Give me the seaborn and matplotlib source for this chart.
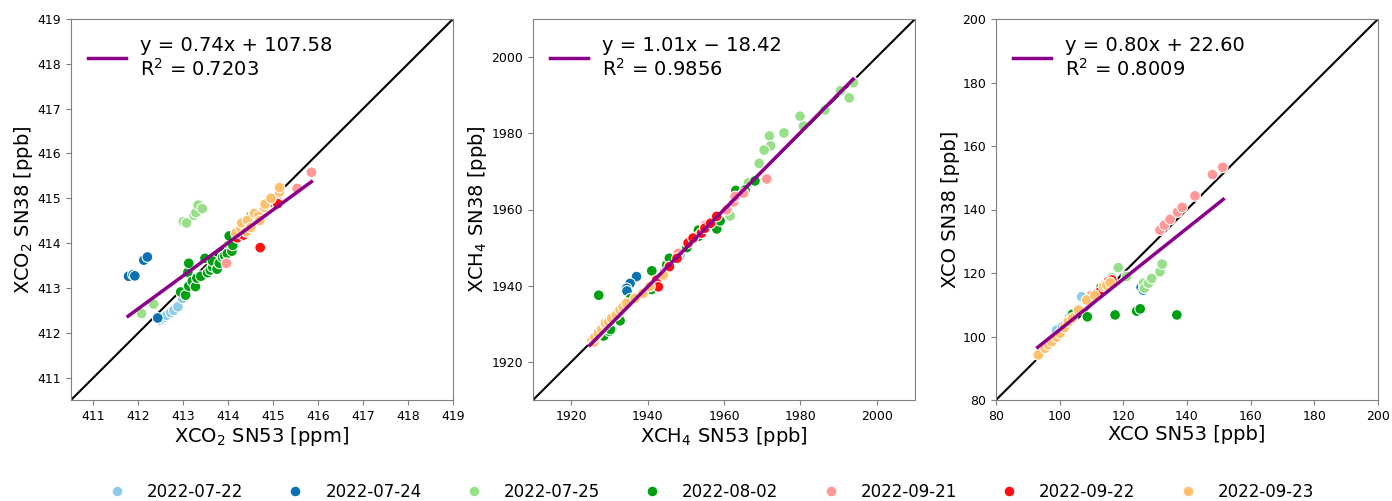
import matplotlib
matplotlib.use("Agg")
import matplotlib.pyplot as plt
import seaborn as sns
import pandas as pd

dates = ['2022-07-22', '2022-07-24', '2022-07-25', '2022-08-02',
         '2022-09-21', '2022-09-22', '2022-09-23']
date_colors = ['#8fcbe6', '#0a72b2', '#98df8a', '#00a012',
               '#ff9896', '#ff1010', '#ffc06e']

# XCO2: SN53 (x) and SN38 (y) per day
co2_sn53 = {
    '2022-07-22': [412.49, 412.55, 412.60, 412.63, 412.72, 412.79, 412.88, 412.98, 413.05],
    '2022-07-24': [411.78, 411.88, 411.92, 412.12, 412.20, 412.43],
    '2022-07-25': [412.07, 412.34, 413.00, 413.07, 413.24, 413.28, 413.33, 413.42, 414.01, 414.45],
    '2022-08-02': [412.94, 413.05, 413.10, 413.12, 413.12, 413.20, 413.27, 413.30, 413.39, 413.48,
                   413.54, 413.60, 413.65, 413.65, 413.75, 413.80, 413.87, 413.92, 413.98, 414.02,
                   414.08, 414.10, 414.50],
    '2022-09-21': [413.96, 414.20, 414.55, 415.00, 415.10, 415.53, 415.85],
    '2022-09-22': [414.20, 414.34, 414.50, 414.71, 414.95, 415.03, 415.06, 415.10],
    '2022-09-23': [414.17, 414.28, 414.30, 414.40, 414.43, 414.50, 414.58, 414.67, 414.70, 414.80,
                   414.82, 414.95, 415.14, 415.14],
}
co2_sn38 = {
    '2022-07-22': [412.28, 412.31, 412.35, 412.39, 412.45, 412.50, 412.58, 412.77, 412.95],
    '2022-07-24': [413.26, 413.30, 413.27, 413.62, 413.69, 412.33],
    '2022-07-25': [412.43, 412.64, 414.48, 414.45, 414.62, 414.68, 414.85, 414.77, 413.96, 414.55],
    '2022-08-02': [412.91, 412.84, 413.35, 413.04, 413.55, 413.15, 413.03, 413.22, 413.26, 413.66,
                   413.34, 413.40, 413.47, 413.60, 413.42, 413.55, 413.69, 413.72, 413.77, 414.16,
                   413.82, 413.95, 414.60],
    '2022-09-21': [413.55, 414.25, 414.60, 414.95, 415.05, 415.22, 415.58],
    '2022-09-22': [414.12, 414.18, 414.40, 413.90, 414.92, 414.96, 414.99, 414.88],
    '2022-09-23': [414.22, 414.33, 414.45, 414.25, 414.51, 414.35, 414.66, 414.60, 414.50, 414.80,
                   414.87, 415.00, 415.14, 415.24],
}

# XCH4
ch4_sn53 = {
    '2022-07-22': [1944.0, 1946.0, 1948.5],
    '2022-07-24': [1937.1, 1935.4, 1934.5, 1934.6],
    '2022-07-25': [1993.9, 1992.8, 1990.5, 1986.4, 1980.8, 1979.9, 1975.7, 1971.9, 1972.2, 1970.5,
                   1969.2, 1966.4, 1961.6],
    '2022-08-02': [1927.2, 1928.5, 1930.0, 1930.3, 1932.8, 1935.5, 1938.5, 1941.0, 1941.1, 1945.0,
                   1945.7, 1950.3, 1953.3, 1953.4, 1958.1, 1959.0, 1963.1, 1965.5, 1968.1],
    '2022-09-21': [1948.0, 1955.0, 1958.1, 1960.7, 1962.6, 1962.9, 1965.1, 1971.2],
    '2022-09-22': [1942.4, 1942.8, 1944.1, 1945.7, 1947.7, 1950.6, 1951.9, 1954.1, 1955.0, 1956.5,
                   1958.1],
    '2022-09-23': [1925.4, 1926.0, 1926.2, 1927.1, 1928.0, 1928.9, 1929.0, 1929.8, 1930.6, 1931.8,
                   1932.8, 1933.6, 1934.5, 1936.7, 1938.8, 1940.6, 1944.1],
}
ch4_sn38 = {
    '2022-07-22': [1943.5, 1945.5, 1948.0],
    '2022-07-24': [1942.4, 1940.6, 1939.3, 1938.6],
    '2022-07-25': [1993.3, 1989.3, 1991.2, 1986.1, 1981.9, 1984.5, 1980.1, 1979.3, 1976.7, 1975.6,
                   1972.1, 1967.0, 1958.3],
    '2022-08-02': [1937.5, 1926.8, 1928.0, 1928.5, 1930.8, 1936.6, 1937.8, 1939.0, 1943.9, 1945.5,
                   1947.2, 1950.0, 1954.6, 1953.0, 1954.9, 1957.0, 1965.0, 1965.1, 1967.5],
    '2022-09-21': [1948.5, 1955.8, 1958.3, 1959.9, 1962.0, 1963.4, 1964.3, 1968.0],
    '2022-09-22': [1941.5, 1939.7, 1943.2, 1945.0, 1947.2, 1951.2, 1952.5, 1953.8, 1955.1, 1956.4,
                   1958.2],
    '2022-09-23': [1925.6, 1925.2, 1926.4, 1927.5, 1928.6, 1929.7, 1930.2, 1930.5, 1931.5, 1932.3,
                   1933.7, 1934.4, 1935.4, 1936.7, 1938.0, 1939.8, 1942.8],
}

# XCO
co_sn53 = {
    '2022-07-22': [99.0, 103.0, 106.9, 110.0],
    '2022-07-24': [101.0, 125.6, 126.3],
    '2022-07-25': [112.0, 116.3, 118.4, 121.0, 126.3, 126.6, 127.9, 128.9, 131.5, 132.2],
    '2022-08-02': [104.0, 106.0, 108.7, 110.0, 113.0, 117.4, 124.2, 125.3, 136.8],
    '2022-09-21': [110.0, 114.0, 131.5, 132.9, 134.7, 137.0, 138.5, 142.5, 148.0, 151.2],
    '2022-09-22': [112.7, 114.3, 115.3, 116.4],
    '2022-09-23': [93.3, 95.4, 96.5, 97.5, 99.0, 100.1, 101.5, 102.7, 104.0, 105.9, 108.5, 111.0,
                   113.8, 114.8, 115.9],
}
co_sn38 = {
    '2022-07-22': [102.0, 106.0, 112.5, 113.0],
    '2022-07-24': [103.0, 115.5, 114.6],
    '2022-07-25': [114.0, 118.5, 121.7, 118.9, 116.8, 115.2, 116.8, 118.3, 120.4, 122.8],
    '2022-08-02': [107.0, 108.5, 106.2, 111.5, 115.5, 106.8, 108.0, 108.7, 106.8],
    '2022-09-21': [113.0, 116.0, 133.5, 135.1, 136.9, 139.2, 140.7, 144.3, 151.0, 153.3],
    '2022-09-22': [114.1, 116.5, 117.3, 117.8],
    '2022-09-23': [94.2, 96.3, 97.4, 98.4, 99.8, 101.0, 102.8, 104.7, 105.8, 108.3, 111.5, 113.0,
                   115.8, 116.2, 117.0],
}

# linear fit lines (ends) and their labels
fit_x = [[411.77, 415.85], [1924.9, 1993.8], [93.1, 151.4]]
fit_y = [[412.37, 415.37], [1924.4, 1994.2], [96.6, 143.2]]
fit_labels = ['y = 0.74x + 107.58\nR$^2$ = 0.7203',
              'y = 1.01x \u2212 18.42\nR$^2$ = 0.9856',
              'y = 0.80x + 22.60\nR$^2$ = 0.8009']

limits = [(410.5, 419), (1910, 2010), (80, 200)]
ticks = [list(range(411, 420)), list(range(1920, 2001, 20)), list(range(80, 201, 20))]
xlabels = ['XCO$_2$ SN53 [ppm]', 'XCH$_4$ SN53 [ppb]', 'XCO SN53 [ppb]']
ylabels = ['XCO$_2$ SN38 [ppb]', 'XCH$_4$ SN38 [ppb]', 'XCO SN38 [ppb]']


def to_frame(xs, ys):
    rows = []
    for d in dates:
        for a, b in zip(xs[d], ys[d]):
            rows.append({'date': d, 'sn53': a, 'sn38': b})
    return pd.DataFrame(rows)


frames = [to_frame(co2_sn53, co2_sn38), to_frame(ch4_sn53, ch4_sn38),
          to_frame(co_sn53, co_sn38)]
palette = dict(zip(dates, date_colors))

fig = plt.figure(figsize=(13.92, 5.01), dpi=100)
lefts = [71 / 1392, 533 / 1392, 996 / 1392]
axes = [fig.add_axes([l, 101 / 501, 382 / 1392, 381 / 501]) for l in lefts]

handles, labels = None, None
for i, ax in enumerate(axes):
    lo, hi = limits[i]
    ax.plot([lo, hi], [lo, hi], color='black', lw=1.5, zorder=1)
    sns.scatterplot(data=frames[i], x='sn53', y='sn38', hue='date', hue_order=dates,
                    palette=palette, s=60, edgecolor='white', linewidth=0.8,
                    legend=(i == 0), ax=ax, zorder=2)
    if i == 0:
        handles, labels = ax.get_legend_handles_labels()
    fit_line, = ax.plot(fit_x[i], fit_y[i], color='#8b008b', lw=2.5, zorder=3)
    ax.legend([fit_line], [fit_labels[i]], loc='upper left', fontsize=14,
              frameon=False, handlelength=2.0, handletextpad=0.7,
              borderaxespad=0.45, labelspacing=0.3)
    ax.set_xlim(lo, hi)
    ax.set_ylim(lo, hi)
    ax.set_xticks(ticks[i])
    ax.set_yticks(ticks[i])
    ax.tick_params(labelsize=9, color='grey')
    for sp in ax.spines.values():
        sp.set_color('grey')
    ax.set_xlabel(xlabels[i], fontsize=14, labelpad=2)
    ax.set_ylabel(ylabels[i], fontsize=14, labelpad=2)

fig.legend(handles, labels, loc='center', bbox_to_anchor=(0.508, 9 / 501), ncol=7,
           fontsize=12, frameon=False, columnspacing=2.13, handletextpad=0.8)

plt.savefig('out.png', dpi=100)
